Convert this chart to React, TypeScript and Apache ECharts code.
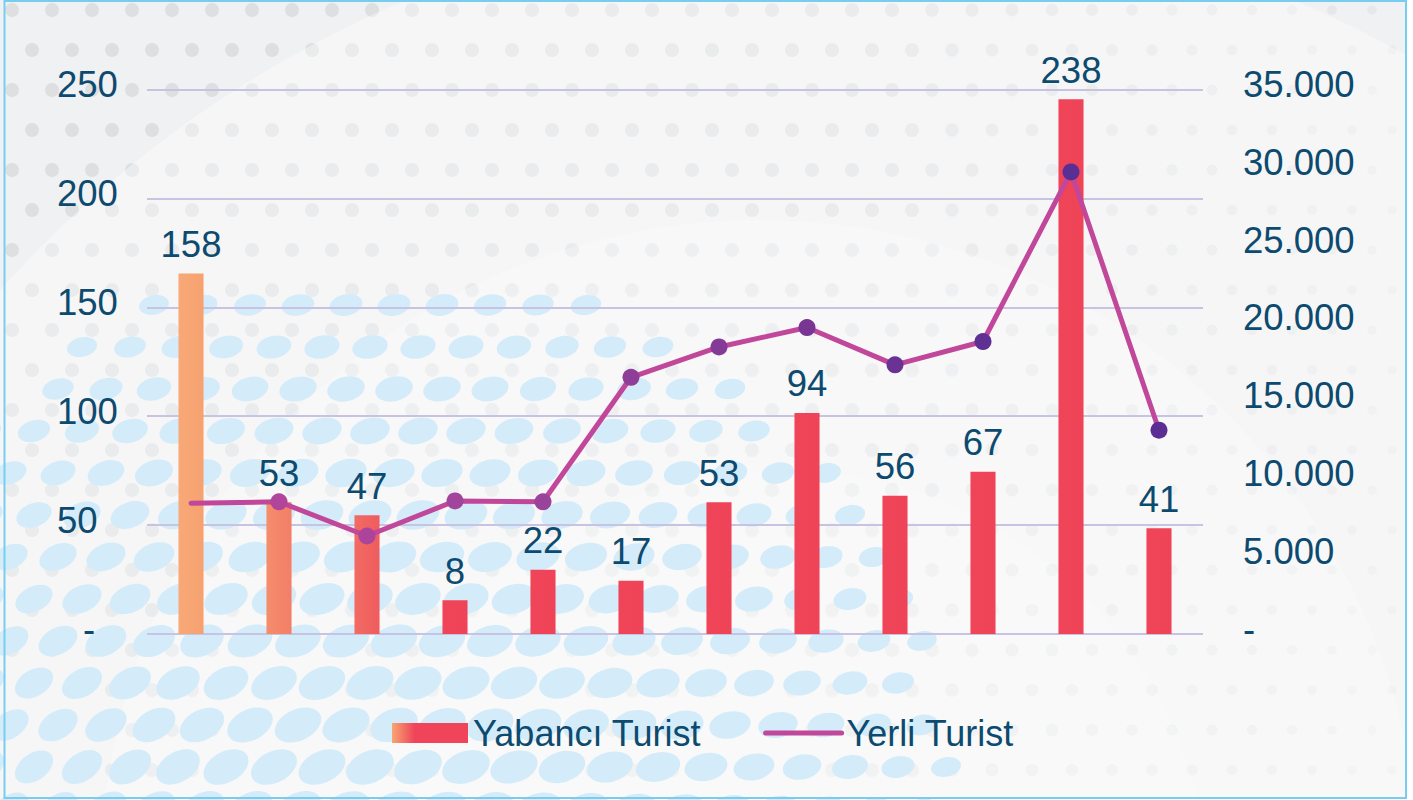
import React, { useEffect, useRef } from "react";
import * as echarts from "echarts";

// ---- data ----
const CATEGORIES = ["Ocak", "Şubat", "Mart", "Nisan", "Mayıs", "Haziran", "Temmuz", "Ağustos", "Eylül", "Ekim", "Kasım", "Aralık"];
const YABANCI_TURIST = [158, 53, 47, 8, 22, 17, 53, 94, 56, 67, 238, 41];
const YERLI_TURIST = [8400, 8500, 6300, 8550, 8500, 16500, 18450, 19700, 17300, 18800, 29700, 13100];
const LEFT_AXIS = { min: 0, max: 250, interval: 50 };
const RIGHT_AXIS = { min: 0, max: 35000, interval: 5000 };
// the source draws its bars from a baseline 7.5 units below the printed zero
const BAR_AXIS = { min: -7.5, max: 242.5 };
const SERIES_NAMES = ["Yabancı Turist", "Yerli Turist"];

// ---- styles ----
const TEXT = "#0d4a6f";
const FONT = "'Liberation Sans', Arial, Helvetica, sans-serif";
const FS = 36.5;
const LEGEND_FS = 36;
const GRID_LINE = "#c9c3e3";
const LINE_COLOR = "#c0479a";
const BAR_FILLS: [string, string][] = [
  ["#f8a977", "#f6a170"],
  ["#f58d6c", "#f37e67"],
  ["#f26b63", "#ef5c5e"],
];
const BAR_DEFAULT: [string, string] = ["#f04559", "#ef4358"];
const MARKER_COLORS = ["#b1449b", "#b1449b", "#ad449b", "#a2449b", "#9a439b", "#8e3e98", "#843a97", "#793594", "#6a3293", "#5f3093", "#5a2f94", "#5b2e93"];

function fmtThousands(v: number): string {
  return String(v).replace(/\B(?=(\d{3})+(?!\d))/g, ".");
}

function buildBackground(): any[] {
  const els: any[] = [];
  els.push({ type: "rect", shape: { x: 0, y: 0, width: 1406, height: 800 }, style: { fill: "#f0f1f2" }, z: -20, silent: true });
  // gray dots
  for (let row = 0; row * 40 < 830; row++) {
    for (let col = -1; col * 40 < 1430; col++) {
      const x = col * 40 + (row % 2) * 20 + 12;
      const y = row * 40 + 10;
      if (x > 1404 || x < 0) continue;
      const t = Math.min(1, Math.max(0, (x - 900) / 500));
      els.push({
        type: "circle",
        shape: { cx: x, cy: y, r: 7 - 2.5 * t },
        style: { fill: "#dcdddf", opacity: 0.9 - 0.5 * t },
        z: -19,
        silent: true,
      });
    }
  }
  // lighter arcs
  els.push({ type: "circle", shape: { cx: 850, cy: 1050, r: 1140 }, style: { fill: "rgba(255,255,255,0.38)" }, z: -18, silent: true });
  els.push({ type: "circle", shape: { cx: 760, cy: 880, r: 660 }, style: { fill: "rgba(255,255,255,0.22)" }, z: -18, silent: true });
  els.push({ type: "circle", shape: { cx: 780, cy: 900, r: 430 }, style: { fill: "rgba(255,255,255,0.18)" }, z: -18, silent: true });
  // blue ellipses in the lower-left
  const cx0 = 380, cy0 = 830, R = 575;
  for (let row = 0; row * 42 < 560; row++) {
    for (let col = -1; col * 48 < 1000; col++) {
      const x = col * 48 + (row % 2) * 24 + 10;
      const y = 305 + row * 42;
      const d = Math.hypot(x - cx0, y - cy0);
      if (d > R) continue;
      const s = 1 - 0.4 * Math.pow(d / R, 2);
      const rot = 0.2 + 0.45 * Math.min(1, Math.max(0, (y - 330) / 450)) * Math.min(1, Math.max(0, (700 - x) / 700));
      els.push({
        type: "ellipse",
        x,
        y,
        rotation: rot,
        shape: { cx: 0, cy: 0, rx: 25 * s, ry: 16 * s },
        style: { fill: "#d4ecf9" },
        z: -17,
        silent: true,
      });
    }
  }
  // frame
  els.push({ type: "rect", shape: { x: 4.5, y: 1, width: 1401.5, height: 797 }, style: { fill: "none", stroke: "#76cdf0", lineWidth: 2 }, z: -16, silent: true });
  return els;
}

export default function App() {
  const ref = useRef<HTMLDivElement>(null);

  useEffect(() => {
    document.body.style.margin = "0";
    if (!ref.current) return;
    const chart = echarts.init(ref.current, undefined, { renderer: "svg" });

    const legendBarFill = new echarts.graphic.LinearGradient(0, 0, 1, 0, [
      { offset: 0, color: "#f7a673" },
      { offset: 0.3, color: "#ef4459" },
      { offset: 1, color: "#ef4459" },
    ]);

    const richLabel = { color: TEXT, fontSize: FS, fontFamily: FONT, padding: [0, 0, 10, 0] };

    const option: any = {
      animation: false,
      backgroundColor: "#ffffff",
      graphic: { elements: buildBackground() },
      grid: { left: 147, right: 210, top: 89.5, bottom: 166, containLabel: false },
      legend: {
        left: 387,
        top: 710,
        itemWidth: 76,
        itemHeight: 20,
        itemGap: 62,
        textStyle: { color: TEXT, fontSize: LEGEND_FS, fontFamily: FONT },
        data: [
          { name: SERIES_NAMES[0], icon: "rect", itemStyle: { color: legendBarFill } },
          { name: SERIES_NAMES[1], itemStyle: { opacity: 0 }, lineStyle: { color: LINE_COLOR, width: 5, cap: "round" } },
        ],
      },
      xAxis: {
        type: "category",
        data: CATEGORIES,
        boundaryGap: true,
        axisLine: { show: false },
        axisTick: { show: false },
        axisLabel: { show: false },
        splitLine: { show: false },
      },
      yAxis: [
        {
          type: "value",
          position: "left",
          min: LEFT_AXIS.min,
          max: LEFT_AXIS.max,
          interval: LEFT_AXIS.interval,
          axisLine: { show: false },
          axisTick: { show: false },
          splitLine: { show: true, lineStyle: { color: GRID_LINE, width: 2 } },
          axisLabel: {
            align: "left",
            margin: 90,
            color: TEXT,
            fontSize: FS,
            fontFamily: FONT,
            padding: [0, 0, 10, 0],
            formatter: (v: number) => (v === 0 ? "{z|-}" : String(v)),
            rich: { z: { color: TEXT, fontSize: FS, fontFamily: FONT, padding: [0, 0, 0, 26] } },
          },
        },
        {
          type: "value",
          position: "right",
          min: RIGHT_AXIS.min,
          max: RIGHT_AXIS.max,
          interval: RIGHT_AXIS.interval,
          axisLine: { show: false },
          axisTick: { show: false },
          splitLine: { show: false },
          axisLabel: {
            align: "left",
            margin: 40,
            color: TEXT,
            fontSize: FS,
            fontFamily: FONT,
            formatter: (v: number) => "{r|" + (v === 0 ? "-" : fmtThousands(v)) + "}",
            rich: { r: richLabel },
          },
        },
        {
          type: "value",
          show: false,
          min: BAR_AXIS.min,
          max: BAR_AXIS.max,
          splitLine: { show: false },
        },
      ],
      series: [
        {
          name: SERIES_NAMES[0],
          type: "custom",
          yAxisIndex: 2,
          z: 2,
          encode: { x: 0, y: 1 },
          data: YABANCI_TURIST.map((v, i) => [i, v]),
          renderItem: (params: any, api: any) => {
            const idx = params.dataIndex;
            const xi = api.value(0);
            const v = api.value(1);
            const top = api.coord([xi, v]);
            const base = api.coord([xi, BAR_AXIS.min]);
            const bw = api.size([1, 0])[0] * 0.285;
            const [c0, c1] = BAR_FILLS[idx] || BAR_DEFAULT;
            return {
              type: "group",
              children: [
                {
                  type: "rect",
                  shape: { x: top[0] - bw / 2, y: top[1], width: bw, height: base[1] - top[1] },
                  style: {
                    fill: new echarts.graphic.LinearGradient(0, 0, 1, 0, [
                      { offset: 0, color: c0 },
                      { offset: 1, color: c1 },
                    ]),
                  },
                },
                {
                  type: "text",
                  x: top[0],
                  y: top[1] - 29,
                  style: {
                    text: String(v),
                    fill: TEXT,
                    fontSize: FS,
                    fontFamily: FONT,
                    align: "center",
                    verticalAlign: "middle",
                  },
                },
              ],
            };
          },
        },
        {
          name: SERIES_NAMES[1],
          type: "line",
          yAxisIndex: 1,
          z: 5,
          symbol: "circle",
          symbolSize: 17,
          showSymbol: true,
          lineStyle: { color: LINE_COLOR, width: 5, cap: "round", join: "round" },
          itemStyle: { color: LINE_COLOR },
          data: YERLI_TURIST.map((v, i) => ({
            value: v,
            symbol: i === 0 ? "none" : "circle",
            itemStyle: { color: MARKER_COLORS[i] },
          })),
        },
      ],
    };

    chart.setOption(option);
    return () => chart.dispose();
  }, []);

  return <div ref={ref} style={{ position: "fixed", left: 0, top: 0, width: 1413, height: 800 }} />;
}
